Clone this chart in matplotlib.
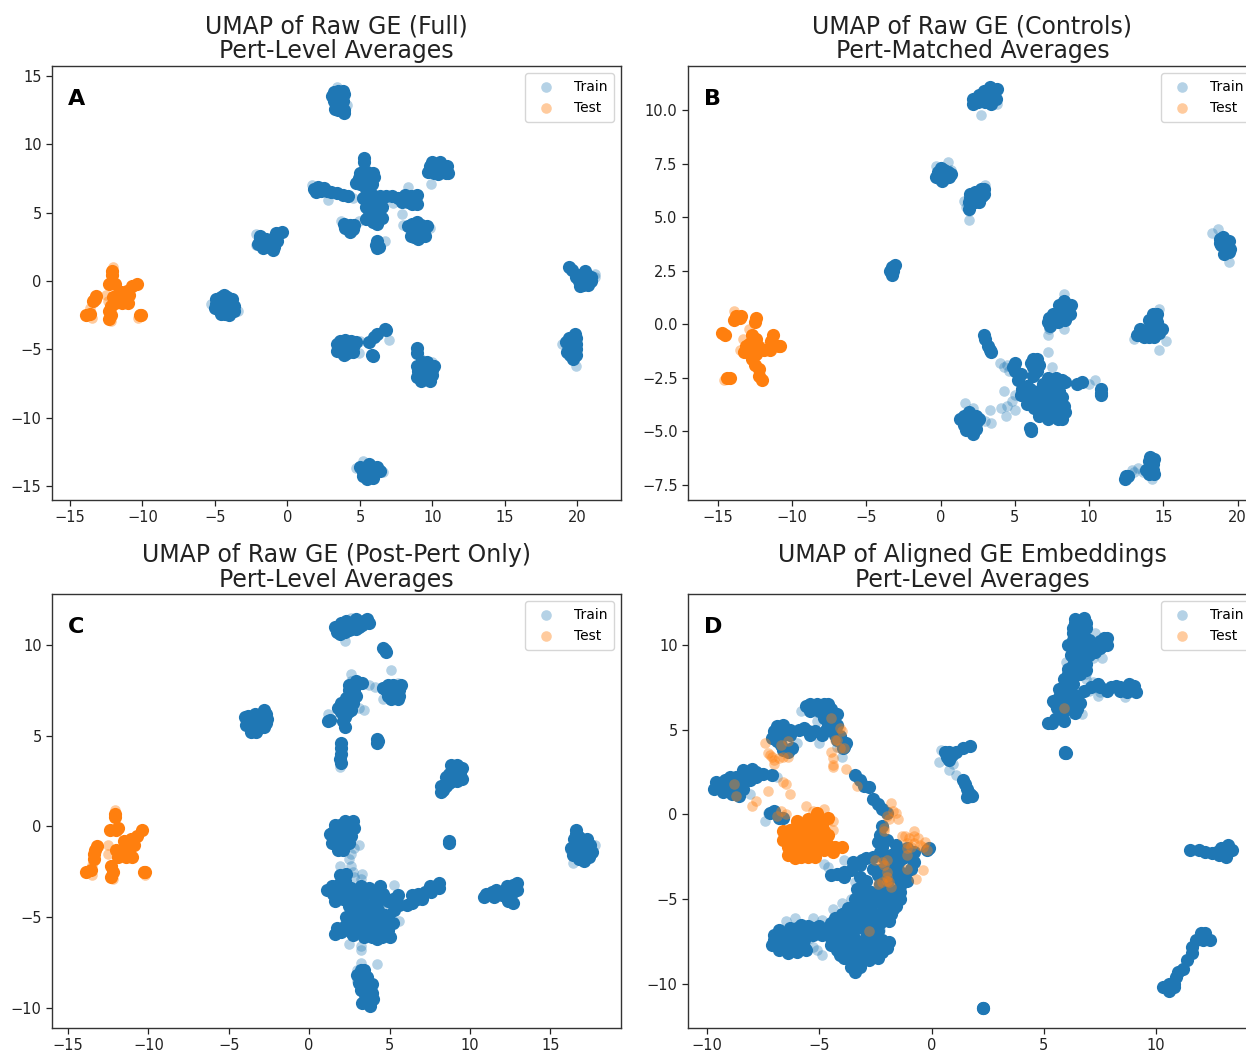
import numpy as np
import matplotlib
matplotlib.use("Agg")
import matplotlib.pyplot as plt

# values; "dense" = places where many points overlap,
# "sparse" = single pale points
train_dense_a = [
    (3.5,13.9),(3.3,13.6),(3.7,13.6),(3.2,13.2),(3.5,13.2),(3.8,13.2),(3.4,12.8),(3.7,12.8),(3.9,12.5),(3.5,12.5),(3.9,12.3),
    (5.3,9.0),(5.3,8.7),(5.2,8.0),(5.5,8.0),(4.9,7.5),(5.3,7.5),(5.7,7.5),(5.0,7.1),(5.4,7.1),(5.8,7.1),(5.4,6.7),(5.7,6.5),
    (1.8,6.7),(2.1,6.9),(2.3,6.6),(2.0,6.5),(2.5,6.8),(2.7,6.6),(3.0,6.5),(3.4,6.4),(3.8,6.3),(4.2,6.2),
    (5.2,6.1),(5.6,6.2),(6.0,6.2),(6.4,6.2),(6.8,6.2),(7.2,6.2),(7.6,6.1),(8.1,6.1),(8.5,6.2),(8.8,6.0),(8.3,5.8),(8.6,5.6),(8.7,5.9),
    (5.8,5.6),(6.1,5.5),(5.6,5.1),(6.0,5.1),(6.3,5.1),(5.6,4.7),(6.0,4.6),(6.3,4.6),(5.9,4.3),(6.2,4.2),
    (9.8,8.4),(10.2,8.5),(10.6,8.5),(10.9,8.2),(9.8,8.1),(10.3,8.1),(10.7,8.1),(10.4,7.8),(10.9,7.9),
    (8.6,4.2),(8.9,4.3),(8.6,3.8),(9.0,3.8),(9.4,3.7),(8.8,3.4),(9.2,3.4),(8.7,3.2),
    (3.9,4.2),(4.3,4.1),(4.5,3.8),(4.6,4.1),(6.2,2.9),(6.1,2.6),(6.3,2.5),(6.2,2.4),
    (-1.9,3.1),(-1.5,3.1),(-1.1,3.1),(-1.7,2.8),(-1.3,2.7),(-1.0,2.8),(-1.3,2.5),(-0.7,3.3),(-0.4,3.6),(-0.8,3.5),
    (-4.6,-1.2),(-4.2,-1.2),(-4.9,-1.7),(-4.5,-1.7),(-4.1,-1.7),(-3.7,-1.8),(-4.7,-2.1),(-4.3,-2.2),(-3.9,-2.1),(-4.3,-2.4),
    (19.4,1.0),(19.6,0.8),(20.0,0.4),(20.4,0.5),(20.8,0.3),(20.1,0.0),(20.5,-0.1),(20.9,0.3),(20.4,-0.3),
    (19.9,-4.2),(19.6,-4.6),(19.9,-4.6),(19.4,-4.9),(19.7,-5.0),(19.9,-5.0),(19.5,-5.4),(19.7,-5.7),
    (3.6,-4.4),(4.0,-4.3),(4.4,-4.4),(3.6,-4.9),(4.0,-4.8),(4.5,-4.8),(3.7,-5.2),(4.1,-5.3),
    (5.6,-4.5),(6.0,-4.1),(6.2,-3.9),(6.7,-3.5),(6.8,-3.6),(5.9,-5.5),(5.8,-5.4),
    (8.9,-4.9),(8.9,-5.3),(9.2,-6.2),(9.7,-6.2),(9.0,-6.6),(9.5,-6.6),(10.0,-6.5),(9.2,-7.0),(9.6,-7.0),(9.5,-7.2),
    (5.4,-13.6),(5.8,-13.6),(6.2,-13.6),(5.2,-14.0),(5.6,-14.0),(6.0,-14.0),(5.5,-14.3),(5.7,-14.3),
    (3.1,13.5),(3.9,13.7),(3.2,13.8),(3.8,13.9),(3.3,12.6),
    (-4.9,-1.3),(-3.8,-1.3),(-5.0,-2.0),(-3.7,-2.2),(-4.4,-1.0),(-4.0,-2.5),(-4.6,-2.4),
    (-2.0,2.7),(-1.7,2.4),(-0.9,2.5),(-0.7,2.9),(-1.9,3.3),(-1.0,2.3),
    (4.7,7.2),(6.0,7.6),(5.0,7.9),(5.9,7.9),(5.4,4.5),(6.5,4.6),(6.5,5.4),(5.4,5.4),
    (9.7,8.0),(11.0,8.4),(11.1,7.9),(10.0,8.7),(10.5,8.7),(10.1,7.9),
    (8.3,4.0),(9.5,3.3),(9.6,4.0),(9.2,4.1),(8.5,3.3),(9.0,3.1),
    (19.9,0.3),(20.9,0.0),(20.5,0.7),(20.2,-0.4),(20.7,-0.3),(19.2,-4.5),(19.9,-5.4),(19.3,-5.2),(19.8,-3.9),(19.4,-4.2),
    (3.4,-4.6),(3.4,-5.1),(4.5,-5.2),(4.7,-4.5),(4.3,-5.1),(3.9,-5.4),
    (8.9,-6.2),(10.1,-6.2),(10.0,-6.9),(8.9,-7.0),(9.2,-7.3),(9.8,-7.3),(9.3,-5.9),(9.6,-5.9),
    (5.0,-13.6),(6.4,-13.9),(5.2,-14.3),(5.9,-14.4),(5.6,-13.4),(6.2,-13.9),(5.5,-14.5),
    (7.9,5.8),(8.9,6.3),(8.9,5.6),(8.1,6.3),(4.0,3.9),(4.3,3.6),
]
train_sparse_a = [
    (4.1,12.9),(3.4,14.2),(1.7,7.0),(2.8,5.9),(4.5,6.1),(8.3,6.9),(7.3,5.7),(7.9,4.9),(9.9,7.1),(8.0,4.1),(9.8,3.9),
    (3.7,4.4),(4.9,4.4),(6.7,2.9),(-2.2,3.4),(-2.2,2.6),(-5.3,-1.7),(-3.4,-2.2),(21.2,0.3),(21.2,0.5),(18.9,-4.6),(19.9,-6.2),
    (7.0,-4.3),(4.9,-5.3),(5.0,-4.4),(10.0,-5.9),(9.2,-5.7),(4.7,-13.7),(5.2,-13.2),(6.6,-14.0),
]
test_dense_a = [
    (-12.1,0.7),(-12.1,0.4),(-12.3,-0.2),(-11.9,-0.2),(-13.2,-1.1),(-13.4,-1.5),(-13.3,-1.3),(-13.9,-2.5),(-13.6,-2.4),
    (-12.2,-2.5),(-12.3,-2.8),(-12.3,-2.2),(-10.2,-2.5),(-10.1,-2.5),(-12.0,-1.2),(-11.6,-1.2),(-11.2,-1.2),(-10.9,-1.0),
    (-11.9,-1.6),(-11.4,-1.6),(-11.0,-1.6),(-11.5,-0.8),(-11.1,-0.7),(-10.7,-0.4),(-10.4,-0.2),(-12.2,-1.8),
]
test_sparse_a = [(-12.0,1.0),(-13.6,-2.0),(-13.5,-2.7),(-12.4,-1.5),(-12.5,-1.0),(-10.3,-2.7),(-12.2,-2.9)]

train_dense_b = [
    (3.2,10.9),(2.9,10.7),(3.3,10.6),(3.6,10.8),(3.0,10.4),(2.5,10.4),(2.2,10.3),(3.4,10.3),
    (-0.2,7.1),(0.2,7.2),(0.5,7.1),(-0.1,6.85),(0.3,6.85),(0.6,6.9),
    (2.7,6.3),(2.3,6.2),(2.9,6.1),(2.0,5.9),(2.4,5.9),(2.8,6.0),(1.9,5.7),(2.3,5.7),
    (-3.3,2.7),(-3.2,2.5),(-3.3,2.3),(-3.4,2.5),(-3.1,2.75),
    (18.8,4.0),(19.1,3.9),(19.3,3.7),(18.9,3.7),(19.2,3.4),(19.4,3.4),(19.1,3.3),
    (8.4,1.0),(8.6,0.8),(8.2,0.7),(8.5,0.5),(7.9,0.5),(8.2,0.4),(7.6,0.2),(7.9,0.1),(7.4,-0.1),(7.3,0.3),
    (14.5,0.3),(14.6,0.1),(14.2,0.0),(14.6,-0.2),(14.1,-0.3),(13.7,-0.3),(13.4,-0.5),(14.3,-0.5),(14.7,-0.4),(13.7,-0.6),
    (2.9,-0.5),(3.0,-0.7),(3.2,-1.0),(3.3,-1.2),(3.4,-1.3),
    (5.0,-1.8),(5.0,-2.2),(5.2,-2.6),(5.5,-3.0),(5.7,-3.3),(6.0,-3.6),(6.3,-3.9),(6.7,-4.1),(7.0,-4.2),(7.3,-4.1),(7.7,-4.1),
    (8.0,-4.2),(8.2,-4.4),(8.3,-3.8),(7.9,-3.7),(7.5,-3.8),(7.0,-3.7),(6.6,-3.7),(6.2,-3.4),(5.8,-3.7),
    (6.2,-1.6),(6.5,-1.6),(6.2,-2.0),(6.5,-2.2),(7.1,-3.0),(7.2,-2.5),(7.8,-2.5),(8.2,-2.6),(9.2,-2.8),(9.5,-2.7),
    (10.8,-3.0),(10.8,-3.3),(10.8,-3.2),
    (1.6,-4.3),(2.0,-4.2),(2.4,-4.3),(1.6,-4.7),(2.0,-4.6),(2.4,-4.6),(2.0,-4.95),(1.5,-4.5),
    (6.1,-4.9),(6.1,-5.0),(6.0,-4.85),
    (14.2,-6.5),(14.0,-6.7),(14.3,-6.8),(14.0,-6.4),(14.3,-6.5),(14.2,-6.8),(12.5,-7.1),(12.6,-7.1),
    (2.6,10.7),(3.7,10.5),(3.8,11.0),(3.3,11.1),(2.2,10.5),(2.9,10.9),(-0.3,6.9),(0.7,7.0),(0.1,6.7),(0.0,7.3),
    (2.0,6.1),(2.6,5.7),(1.9,5.4),(2.9,6.3),(2.6,6.1),(19.0,4.1),(19.4,3.9),(18.8,3.8),(19.5,3.5),
    (8.8,0.9),(8.7,0.5),(8.0,0.9),(7.6,0.5),(7.2,0.1),(8.4,0.2),(8.3,1.1),
    (13.2,-0.5),(13.4,-0.2),(14.0,-0.6),(14.6,0.5),(14.3,0.5),(14.0,0.2),(14.9,-0.2),(14.4,-0.6),
    (5.4,-2.3),(5.8,-2.9),(6.0,-3.0),(6.4,-3.3),(6.6,-3.1),(6.8,-3.4),(6.9,-2.8),(7.3,-3.4),(7.7,-3.2),(8.0,-3.1),(8.2,-3.4),(8.4,-4.1),
    (7.2,-4.4),(6.6,-4.3),(7.9,-4.4),(6.2,-2.4),(6.6,-1.9),(6.1,-1.8),(5.9,-3.3),(8.4,-2.7),(7.5,-2.7),(4.9,-2.0),(5.4,-3.3),
    (1.3,-4.4),(1.7,-4.95),(2.6,-4.4),(2.4,-4.9),(1.9,-4.1),(2.2,-5.1),
    (13.8,-6.8),(14.4,-6.3),(14.4,-7.0),(14.0,-7.0),(14.1,-6.2),(12.4,-7.2),
]
train_sparse_b = [
    (2.7,9.75),(3.8,10.3),(-0.3,7.4),(0.5,7.6),(0.7,7.2),(1.6,5.75),(1.9,5.3),(1.9,4.85),(3.0,6.5),(1.7,5.5),
    (18.3,4.25),(18.7,4.45),(19.4,2.9),(7.2,-0.5),(8.3,1.4),(7.3,-0.2),(8.3,-0.2),(14.7,0.7),(15.2,-0.8),(13.0,-0.7),(14.7,-1.2),
    (4.0,-1.8),(4.3,-2.0),(4.5,-1.9),(4.6,-2.2),(7.2,-1.3),(10.0,-2.8),(10.4,-2.6),(4.3,-3.1),(4.1,-3.9),(4.5,-3.8),(4.8,-3.6),
    (3.3,-4.0),(3.4,-4.6),(4.4,-4.3),(5.0,-3.3),(7.5,-2.0),(5.0,-4.0),(1.65,-3.65),(2.2,-3.9),(3.0,-4.5),
    (13.0,-6.9),(13.3,-6.7),(13.6,-6.9),(14.2,-7.2),(12.9,-6.8),
]
test_dense_b = [
    (-13.8,0.4),(-13.9,0.2),(-13.5,0.3),(-12.4,0.3),(-12.5,0.1),(-14.7,-0.4),(-14.5,-0.5),(-14.2,-2.5),(-14.4,-2.5),
    (-12.7,-0.5),(-12.7,-0.8),(-13.1,-1.0),(-12.6,-1.1),(-13.0,-1.3),(-12.4,-1.4),(-12.7,-1.6),(-12.2,-1.2),(-11.9,-1.2),
    (-11.3,-0.5),(-11.4,-0.8),(-10.8,-1.0),(-10.9,-1.0),(-12.5,-1.9),(-12.2,-2.1),(-12.2,-2.4),(-12.0,-2.6),
    (-12.9,-0.9),(-13.2,-1.3),(-12.8,-1.4),(-12.3,-1.0),(-12.4,-0.7),(-11.5,-1.2),(-13.4,0.4),
]
test_sparse_b = [(-13.9,0.6),(-13.3,-0.7),(-13.5,-1.2),(-11.7,-1.0),(-11.2,-1.1),(-14.6,-2.6),(-12.9,-0.2)]

train_dense_c = [
    (1.8,10.9),(2.2,11.1),(2.6,11.2),(3.0,11.2),(3.4,11.3),(3.6,11.4),(1.9,10.6),(2.2,10.7),(2.6,10.9),(3.1,11.0),(2.0,11.2),
    (4.7,9.7),(4.8,9.6),(4.6,9.8),
    (4.9,7.8),(5.2,7.8),(4.8,7.5),(5.2,7.4),(5.6,7.5),(4.9,7.2),(5.3,7.1),(5.6,7.2),(5.1,7.0),
    (2.9,8.0),(3.3,7.9),(2.5,7.5),(2.8,7.5),(2.3,7.1),(2.7,7.1),(2.0,6.8),(2.4,6.7),(2.7,6.8),(2.0,6.3),(2.4,6.3),(2.1,5.8),(2.2,5.5),
    (1.2,5.8),(1.3,5.85),
    (-3.8,6.1),(-3.4,6.2),(-3.0,6.2),(-2.7,6.2),(-3.8,5.8),(-3.4,5.8),(-3.0,5.8),(-2.7,5.7),(-3.5,5.4),(-3.1,5.4),(-3.4,5.3),
    (4.2,4.8),(4.2,4.6),(4.3,4.7),(2.0,4.6),(2.0,4.3),(2.0,4.0),(1.9,3.7),(1.95,3.5),
    (8.9,3.2),(9.2,3.2),(8.7,2.9),(9.1,2.8),(9.4,2.9),(8.9,2.5),(9.2,2.5),(8.3,2.0),(8.5,2.2),(8.2,1.9),
    (1.9,0.1),(2.3,0.1),(2.6,0.1),(1.5,-0.3),(1.9,-0.3),(2.3,-0.3),(1.5,-0.7),(1.9,-0.7),(2.2,-0.7),(1.9,-1.1),(1.8,-1.3),
    (8.7,-0.8),(8.7,-0.9),
    (16.6,-0.4),(16.8,-0.6),(17.1,-0.9),(16.7,-1.0),(17.3,-1.1),(16.8,-1.4),(17.2,-1.4),(17.4,-1.3),(16.6,-1.5),(17.0,-1.7),(17.4,-1.7),(16.5,-1.3),
    (1.4,-3.3),(1.8,-3.2),(2.2,-3.0),(1.5,-3.7),(1.9,-3.6),(2.3,-3.6),(2.1,-4.0),(2.6,-3.9),(3.0,-3.7),(3.5,-3.7),(4.0,-3.7),(4.6,-3.7),
    (3.0,-4.2),(3.4,-4.2),(3.9,-4.3),(5.4,-4.0),(5.6,-4.3),(5.3,-4.6),(3.0,-4.8),(3.4,-4.8),(3.9,-4.9),(4.3,-4.6),
    (2.6,-5.4),(2.2,-5.5),(2.0,-5.8),(2.6,-5.8),(3.3,-5.4),(3.8,-5.4),(4.2,-5.3),(4.6,-5.2),(4.9,-5.1),(3.7,-5.8),(4.2,-5.8),(4.6,-5.9),(4.9,-5.7),(5.0,-6.1),(4.5,-6.1),
    (6.4,-4.2),(6.7,-4.0),(6.8,-3.7),(7.2,-3.6),(7.5,-3.3),(7.9,-3.3),(8.1,-3.1),(8.1,-3.4),
    (11.0,-3.7),(11.4,-3.6),(11.8,-3.7),(12.2,-3.6),(12.5,-3.4),(12.7,-3.2),(12.7,-3.6),(12.5,-4.0),(12.7,-4.2),(12.3,-3.3),(12.4,-4.1),
    (3.2,-7.9),(3.3,-8.3),(3.6,-8.3),(3.1,-8.6),(3.5,-8.7),(3.8,-8.8),(3.4,-9.1),(3.7,-9.1),(3.5,-9.5),(3.7,-9.5),(3.6,-9.7),(3.9,-9.2),
    (1.6,11.0),(2.5,10.8),(2.9,10.9),(3.3,11.1),(1.7,10.7),(2.3,11.3),(2.9,11.4),(3.7,11.2),
    (-4.0,6.0),(-3.6,6.0),(-3.2,6.0),(-2.9,6.0),(-2.6,5.9),(-3.9,5.6),(-3.5,5.6),(-3.1,5.6),(-2.8,5.5),(-3.3,5.2),(-3.6,5.2),(-2.8,6.4),
    (4.6,7.6),(5.7,7.8),(5.5,7.0),(1.8,6.5),(2.2,6.0),(2.6,6.4),(2.9,7.2),(2.5,7.8),
    (8.5,2.7),(9.5,2.6),(9.5,3.2),(8.7,2.4),(8.8,3.4),(9.2,3.4),(8.2,2.2),
    (1.3,-0.4),(1.6,0.1),(2.8,-0.1),(2.6,-0.5),(1.4,-0.9),(2.1,-1.3),(1.7,-1.0),(2.7,0.3),(2.2,0.3),(2.5,-0.9),
    (16.5,-0.7),(16.3,-1.2),(17.3,-0.7),(17.5,-1.0),(17.6,-1.4),(16.4,-1.6),(17.1,-1.9),(16.8,-1.8),(16.6,-0.2),
    (1.1,-3.5),(1.6,-4.1),(2.6,-3.4),(2.3,-2.6),(1.9,-2.7),(3.2,-3.3),(3.7,-3.4),(4.4,-3.3),(3.1,-5.2),(2.5,-4.4),(2.6,-4.9),(2.3,-5.0),(1.7,-5.6),(1.6,-5.9),
    (3.0,-5.8),(3.4,-6.1),(2.7,-6.0),(3.6,-4.5),(4.2,-4.2),(4.7,-4.9),(5.2,-5.3),(4.9,-4.1),(5.5,-3.8),(5.2,-4.0),(4.2,-6.2),(3.9,-6.1),
    (6.1,-4.3),(7.0,-4.0),(6.4,-3.8),(7.6,-3.6),(10.9,-3.9),(11.6,-3.5),(11.5,-3.9),(12.0,-3.8),(12.3,-3.8),(12.9,-3.5),(12.9,-3.1),
    (3.0,-8.2),(3.4,-7.9),(3.2,-9.0),(3.9,-8.7),(4.0,-9.5),(3.3,-9.7),(3.8,-9.9),(3.3,-8.8),(3.2,-8.3),
]
train_sparse_c = [
    (2.2,10.2),(2.6,11.5),(5.1,8.6),(4.6,7.0),(5.5,7.9),(3.7,7.8),(4.1,7.7),(4.5,7.7),(3.4,6.4),(2.6,8.4),(2.6,8.0),(3.1,6.5),(1.2,6.2),(1.9,3.3),
    (3.1,-1.0),(2.8,-1.2),(2.6,-1.5),(2.5,-1.8),(2.6,-2.2),(2.7,-2.5),(3.3,-2.6),(1.9,-2.2),(2.8,-2.8),(3.2,-2.9),
    (16.2,-1.3),(16.4,-2.0),(17.8,-1.0),(5.3,-3.2),(4.8,-4.4),(5.6,-5.2),(2.5,-6.5),(3.2,-6.6),(3.2,-6.8),(4.2,-7.6),(3.2,-7.5),(3.0,-8.5),(3.0,-7.9),
]
test_dense_c = [
    (-12.1,0.7),(-12.1,0.5),(-12.4,-0.2),(-12.0,-0.2),(-11.9,-0.1),(-13.2,-1.1),(-13.4,-1.5),(-13.3,-1.3),(-13.4,-1.8),(-13.9,-2.5),(-13.6,-2.4),
    (-12.2,-2.5),(-12.3,-2.8),(-12.3,-2.2),(-10.3,-2.5),(-10.2,-2.5),(-12.0,-1.3),(-11.6,-1.3),(-11.2,-1.3),(-10.9,-1.0),(-11.9,-1.7),(-11.4,-1.7),
    (-11.0,-1.7),(-11.5,-0.8),(-11.1,-0.7),(-10.7,-0.5),(-10.4,-0.2),
]
test_sparse_c = [(-12.1,0.9),(-13.5,-2.1),(-13.5,-2.7),(-12.5,-1.5),(-12.5,-1.0),(-10.2,-2.7),(-12.2,-2.9)]

train_dense_d = [
    (6.4,11.3),(6.7,11.3),(6.9,11.3),(6.3,11.0),(6.6,11.0),(6.9,11.0),(6.3,10.7),(6.6,10.6),(6.3,10.3),(6.6,10.2),(6.9,10.0),(7.1,9.7),(7.3,9.6),
    (7.5,9.8),(7.7,10.1),(7.8,10.0),(7.7,10.4),(7.5,10.2),(6.4,9.8),(6.7,9.6),(6.5,9.2),(6.8,9.2),(6.3,8.8),(6.6,8.7),(6.9,8.9),(6.1,8.3),(6.4,8.2),(6.6,8.3),
    (6.0,7.8),(6.3,7.7),(5.9,7.3),(6.2,7.2),(5.7,6.9),(6.0,6.8),(5.5,6.6),(5.8,6.5),(6.3,6.4),(6.5,6.2),(6.6,6.6),(5.6,6.3),(6.5,7.0),(6.8,7.3),(7.1,7.5),
    (7.5,7.5),(8.0,7.5),(8.4,7.5),(8.7,7.5),(9.0,7.4),(8.7,7.2),(8.4,7.3),(9.0,7.6),(5.2,5.4),(5.5,5.6),(5.8,5.7),(5.9,5.5),(5.35,5.4),
    (6.1,10.0),(6.9,9.5),(6.2,9.4),(7.0,10.3),(7.2,10.0),
    (6.6,9.9),(6.2,10.0),(7.0,9.4),(6.3,9.3),(6.1,8.6),(6.9,8.5),(5.9,8.0),(5.7,7.4),(6.4,6.9),(5.4,6.7),(5.9,6.1),(6.4,6.0),(7.4,7.7),(8.2,7.6),(7.8,7.3),
    (6.8,11.6),(6.4,11.5),(8.8,7.7),(9.1,7.2),(7.8,10.4),
    (5.95,3.6),(6.0,3.6),(5.95,3.7),
    (0.6,3.7),(0.7,3.4),(0.8,3.2),(0.9,3.5),(1.1,3.7),(1.4,3.9),(1.7,4.05),(0.8,3.7),
    (1.4,2.0),(1.5,1.8),(1.6,1.5),(1.7,1.2),(1.75,1.1),(1.6,1.0),(1.8,1.1),
    (11.5,-2.1),(11.9,-2.1),(12.2,-2.2),(12.5,-2.3),(12.8,-2.4),(13.1,-2.5),(13.2,-2.1),(13.4,-2.1),(13.2,-1.8),(13.1,-2.2),(12.7,-2.2),(12.9,-2.0),
    (12.2,-7.0),(12.0,-7.0),(12.4,-7.4),(12.1,-7.4),(11.8,-7.4),(11.6,-7.8),(11.6,-8.2),(11.4,-8.6),(11.2,-9.1),(11.0,-9.3),(10.9,-9.6),(10.6,-10.0),
    (10.8,-10.0),(10.3,-10.2),(10.6,-10.4),(10.8,-10.2),(2.3,-11.4),(2.3,-11.4),
    (-9.5,1.7),(-9.2,2.0),(-9.1,1.5),(-8.8,1.8),(-8.7,2.2),(-8.7,1.3),(-8.4,2.3),(-8.4,1.9),(-8.1,2.4),(-7.8,2.5),(-7.5,2.4),(-7.1,2.3),(-8.6,1.1),(-9.2,1.8),
    (-9.6,1.9),(-9.3,1.3),(-9.0,2.2),(-8.9,1.2),(-8.4,1.5),(-8.1,2.0),(-7.8,2.2),(-9.7,1.5),(-8.0,2.7),(-8.4,2.6),(-9.0,1.9),
    (-7.0,4.9),(-6.7,5.0),(-6.5,5.0),(-6.9,4.6),(-6.6,4.7),(-6.3,5.0),(-5.9,5.0),(-5.5,4.9),(-5.2,4.9),(-4.9,4.7),(-6.7,4.1),(-6.6,3.8),(-6.4,3.7),(-6.9,4.3),
    (-7.1,4.5),(-6.6,5.3),(-6.3,4.7),(-5.7,5.1),(-5.4,4.7),(-6.9,5.2),(-6.2,3.9),
    (-5.4,6.5),(-5.1,6.5),(-4.8,6.5),(-5.4,6.1),(-5.0,6.1),(-4.7,6.2),(-4.8,5.7),(-4.5,5.7),(-4.6,5.3),(-4.5,5.0),(-4.3,4.7),(-4.2,4.4),(-3.9,4.0),(-3.95,3.9),(-4.7,5.0),(-4.4,5.4),
    (-5.6,6.4),(-4.6,6.5),(-5.2,6.3),(-4.5,6.2),(-4.3,5.2),(-4.2,5.9),(-4.2,5.3),(-4.1,4.6),(-3.8,4.2),
    (-3.4,2.3),(-3.2,2.0),(-3.0,1.7),(-2.8,1.6),(-2.6,0.9),(-2.4,0.6),(-2.2,0.3),(-2.0,0.1),(-7.2,0.1),(-7.0,0.2),(-6.8,-0.2),(-6.6,-0.2),
    (-2.2,-0.7),(-2.3,-1.2),(-2.4,-1.6),(-2.2,-1.9),(-2.0,-1.5),(-1.6,-1.8),(-1.5,-2.2),(-1.2,-2.5),(-0.9,-2.4),(-0.8,-2.8),(-0.9,-3.2),(-1.2,-3.5),(-1.1,-3.9),
    (-1.5,-3.2),(-1.6,-3.7),(-1.4,-4.2),(-1.5,-4.6),(-1.7,-2.8),(-2.6,-2.5),(-2.9,-2.6),(-3.1,-2.7),(-3.5,-2.8),(-0.1,-2.0),(-0.2,-2.1),
    (-4.5,-3.6),(-4.2,-3.5),(-3.9,-3.4),(-3.6,-3.3),(-3.2,-3.7),(-2.9,-3.9),(-3.0,-4.3),(-2.6,-3.2),(-2.4,-3.6),(-2.3,-4.1),(-2.7,-4.6),(-2.3,-4.7),(-1.9,-4.8),
    (-1.6,-5.0),(-2.6,-5.2),(-2.2,-5.3),(-1.8,-5.4),(-1.8,-5.9),(-2.2,-5.9),(-2.6,-5.8),(-1.9,-6.3),(-2.3,-6.4),
    (-3.4,-5.5),(-3.0,-5.7),(-3.7,-6.0),(-3.3,-6.2),(-2.9,-6.3),(-4.1,-6.5),(-3.7,-6.6),(-3.3,-6.7),(-2.9,-6.9),(-2.4,-6.9),(-4.3,-7.0),(-3.9,-7.1),(-3.5,-7.2),
    (-3.0,-7.4),(-4.3,-7.5),(-3.9,-7.6),(-3.5,-7.7),(-2.5,-7.4),(-2.2,-7.4),(-2.1,-7.7),(-4.2,-8.0),(-3.8,-8.1),(-3.4,-8.2),(-2.9,-8.1),(-2.5,-8.0),(-2.2,-8.1),
    (-3.9,-8.5),(-3.5,-8.7),(-3.0,-8.4),(-2.6,-8.4),(-3.4,-9.2),(-3.4,-9.3),(-3.6,-9.0),
    (-7.0,-7.4),(-6.7,-7.1),(-6.4,-7.0),(-6.1,-7.0),(-6.8,-7.6),(-6.5,-7.5),(-6.2,-7.5),(-5.9,-7.3),(-6.5,-8.0),(-6.2,-8.0),(-5.9,-7.9),(-5.7,-7.8),
    (-5.8,-6.5),(-5.5,-6.6),(-5.3,-6.7),(-5.0,-6.6),(-4.7,-6.8),(-4.9,-7.1),
    (-7.1,-7.7),(-7.0,-7.1),(-6.8,-6.8),(-6.3,-6.7),(-6.4,-8.2),(-6.0,-8.1),(-5.6,-8.0),(-5.7,-7.0),(-5.5,-7.1),(-5.7,-7.4),(-6.8,-8.0),(-5.3,-7.1),(-6.0,-6.7),
    (-4.5,-6.4),(-4.3,-6.1),(-4.0,-5.9),(-3.7,-5.5),(-3.2,-5.1),(-2.9,-5.1),(-3.4,-5.0),(-2.9,-4.7),(-3.3,-4.4),(-3.2,-3.0),(-3.9,-3.7),
    (-2.7,-7.6),(-3.2,-7.9),(-2.7,-7.1),(-2.5,-6.4),(-3.0,-6.7),(-3.5,-6.4),(-3.9,-6.3),(-4.5,-7.3),(-4.5,-7.7),(-4.6,-6.9),(-4.1,-8.3),(-3.7,-8.4),(-3.3,-8.6),
    (-2.8,-8.6),(-2.4,-8.5),(-2.0,-7.9),(-3.2,-9.0),(-1.9,-7.5),(-2.1,-5.6),(-2.7,-6.3),(-1.7,-5.6),(-1.4,-5.0),(-1.6,-5.4),(-2.1,-4.3),(-1.8,-4.5),(-2.0,-4.1),
    (-2.0,-3.6),(-2.2,-3.2),(-2.1,-2.6),(-2.3,-2.2),(-1.8,-2.4),(-1.9,-3.2),(-1.4,-2.7),(-0.8,-2.2),(-1.1,-2.0),(-1.4,-4.6),
]
train_sparse_d = [
    (6.9,8.0),(7.2,7.8),(7.0,7.3),(7.5,7.2),(8.6,6.9),(7.4,7.0),(6.7,8.4),(6.9,8.3),(7.6,9.2),(7.3,10.7),(6.0,9.0),(6.0,5.8),(6.7,5.9),(7.2,9.2),
    (0.4,3.8),(0.35,3.1),(0.8,2.6),(0.95,3.0),(1.1,2.3),(-8.1,1.2),(-6.9,2.2),(-5.8,6.1),(-5.1,5.5),(-6.0,4.2),(-5.0,4.2),(-4.0,3.4),(-4.2,4.0),(-3.9,4.2),
    (-7.4,-0.4),(-7.3,0.1),(-5.3,-7.8),(-5.4,-7.3),(-5.1,-8.0),(-4.9,-8.3),(-5.3,-6.1),(-4.9,-6.2),(-6.5,-6.3),(-6.1,-6.1),(-4.4,-5.6),(-4.0,-5.2),(-3.6,-5.0),
    (-3.3,-4.6),(-3.4,-4.0),(-4.8,-2.9),(-4.6,-3.1),(-3.9,-2.7),(-2.3,-6.8),
]
test_dense_d = [
    (-5.1,0.1),(-5.0,-0.2),(-5.3,-0.4),(-4.9,-0.6),(-5.6,-0.7),(-5.2,-0.9),(-4.8,-1.0),(-6.1,-0.8),(-6.0,-1.1),(-5.6,-1.2),(-5.3,-1.3),(-4.9,-1.5),(-6.2,-1.4),
    (-5.8,-1.6),(-5.4,-1.7),(-5.0,-1.9),(-4.6,-1.8),(-4.3,-1.9),(-6.0,-1.9),(-5.6,-2.1),(-5.2,-2.2),(-4.8,-2.1),(-5.8,-2.5),(-5.5,-2.5),(-6.1,-2.3),(-5.9,-0.5),(-6.3,-0.9),
    (-6.6,-1.0),(-6.6,-1.5),(-6.4,-1.9),(-6.4,-2.4),(-6.0,-0.4),(-5.5,-0.3),(-4.6,-0.2),(-4.6,-1.2),(-4.0,-1.9),(-4.4,-2.2),(-6.1,-2.6),(-5.2,-2.5),
]
test_sparse_d = [
    (-7.4,4.2),(-7.3,3.6),(-7.2,3.5),(-7.1,3.4),(-7.0,3.2),(-6.8,3.3),(-6.7,4.1),(-6.6,3.4),(-6.4,3.4),(-6.4,4.3),(-7.0,3.0),
    (-4.5,3.7),(-4.4,3.3),(-4.4,2.9),(-4.4,2.8),(-3.8,2.7),(-4.1,3.9),(-3.9,3.9),(-4.2,4.4),(-4.3,4.4),(-4.0,4.9),(-4.1,5.1),(-4.5,5.7),
    (-6.6,1.9),(-6.5,1.8),(-6.3,1.2),(-7.3,1.4),(-7.8,0.8),(-8.0,0.5),(-8.8,1.8),(-8.7,1.1),(-3.3,1.7),
    (-6.7,0.2),(-6.5,0.0),(-6.9,-0.1),(-5.6,0.5),(-5.3,0.2),(-4.8,0.3),(-4.4,-0.4),(-4.4,-0.9),(-4.6,-0.4),
    (-1.8,0.7),(-1.7,0.2),(-1.6,0.1),(-2.0,-0.1),(-1.9,-0.3),(-1.5,-0.3),(-2.1,-0.8),(-2.1,-1.0),(-1.3,-1.3),(-1.2,-1.3),(-1.0,-1.4),(-0.8,-1.0),(-0.6,-1.4),
    (-1.1,-1.7),(-0.8,-1.7),(-0.5,-1.8),(-0.4,-1.9),(-1.1,-2.0),(-0.2,-2.1),(-0.3,-1.6),(-1.1,-2.4),(-0.8,-1.3),(-0.9,-1.9),
    (-2.5,-2.7),(-2.2,-2.8),(-2.0,-2.7),(-2.1,-3.0),(-2.0,-3.4),(-2.0,-3.7),(-2.4,-4.1),(-2.2,-4.0),(-2.0,-3.9),(-1.9,-4.0),(-1.8,-4.3),(-1.1,-3.2),(-0.4,-3.3),
    (-0.7,-3.8),(-2.8,-6.9),(5.9,6.3),
]

titles = ["UMAP of Raw GE (Full)\nPert-Level Averages",
          "UMAP of Raw GE (Controls)\nPert-Matched Averages",
          "UMAP of Raw GE (Post-Pert Only)\nPert-Level Averages",
          "UMAP of Aligned GE Embeddings\nPert-Level Averages"]
letters = ["A", "B", "C", "D"]

W, H = 1246, 1052
BLUE = "#1f77b4"
ORANGE = "#ff7f0e"


def panel(left, top, xlim, ylim, train_dense, train_sparse, test_dense, test_sparse, title, letter):
    # pixel box of the axes, the right hand column runs off the figure
    ax = fig.add_axes([left / W, 1 - (top + 434) / H, 569 / W, 434 / H])
    for pts, color, alpha, size, label in [(train_dense, BLUE, 1.0, 90, None), (train_sparse, BLUE, 0.33, 58, "Train"),
                                           (test_dense, ORANGE, 1.0, 90, None), (test_sparse, ORANGE, 0.4, 58, "Test")]:
        x, y = np.array(pts).T
        ax.scatter(x, y, s=size, color=color, alpha=alpha, linewidths=0, label=label)
    ax.set_xlim(*xlim)
    ax.set_ylim(*ylim)
    ax.tick_params(labelsize=10.5, length=4, width=0.9, colors="#222222")
    for s in ax.spines.values():
        s.set_linewidth(1.0)
        s.set_color("#333333")
    ax.set_title(title, fontsize=17, pad=5.4, linespacing=1.05, color="#222222")
    ax.legend(loc="upper right", fontsize=10, borderpad=0.5, handletextpad=1.0)
    ax.text(0.028, 0.925, letter, transform=ax.transAxes, fontsize=16, fontweight="bold", va="center")
    return ax


fig = plt.figure(figsize=(W / 100, H / 100), dpi=100)
panel(52, 66, (-16.24, 23.0), (-16.03, 15.73), train_dense_a, train_sparse_a, test_dense_a, test_sparse_a, titles[0], letters[0])
panel(688, 66, (-17.0, 21.3), (-8.2, 12.06), train_dense_b, train_sparse_b, test_dense_b, test_sparse_b, titles[1], letters[1])
panel(52, 594, (-16.0, 19.4), (-11.1, 12.8), train_dense_c, train_sparse_c, test_dense_c, test_sparse_c, titles[2], letters[2])
panel(688, 594, (-10.85, 14.5), (-12.6, 13.0), train_dense_d, train_sparse_d, test_dense_d, test_sparse_d, titles[3], letters[3])
fig.savefig("out.png", dpi=100)
